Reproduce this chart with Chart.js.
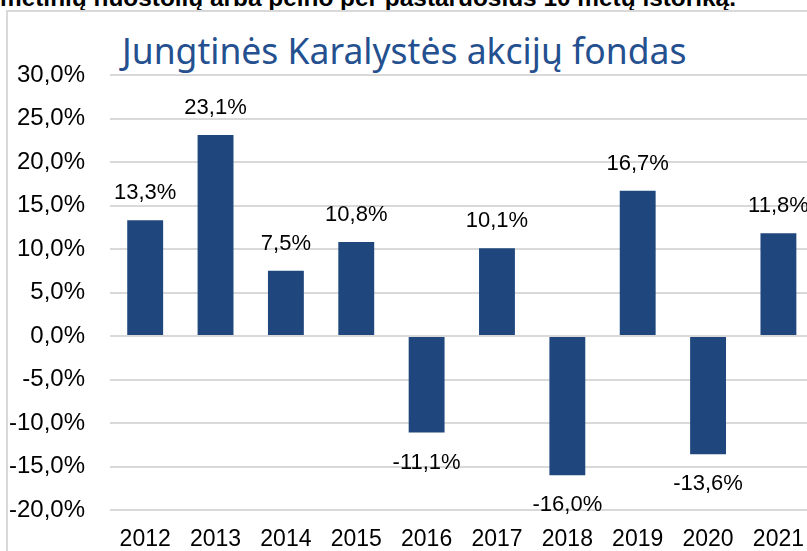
<!DOCTYPE html>
<html>
<head>
<meta charset="utf-8">
<script src="https://cdn.jsdelivr.net/npm/chart.js@4/dist/chart.umd.min.js"></script>
<style>
  html, body { margin: 0; padding: 0; background: #fff; overflow: hidden; }
  #page { position: relative; width: 807px; height: 551px; overflow: hidden; }
  #intro { position: absolute; left: 0; top: -16px; font: bold 24.4px "Liberation Sans", Arial, sans-serif; color: #000; white-space: nowrap; }
  #frame { position: absolute; left: 6px; top: 10px; width: 900px; height: 600px; border: 2px solid #d9d9d9; box-sizing: border-box; }
  #title { position: absolute; left: 122px; top: 26px; font: 35.5px "Noto Sans", sans-serif; color: #24508f; white-space: nowrap; }
  #wrap { position: absolute; left: 0; top: 0; width: 820px; height: 551px; }
</style>
</head>
<body>
<div id="page">
  <div id="intro">metinių nuostolių arba pelno per pastaruosius 10 metų istoriką.</div>
  <div id="frame"></div>
  <div id="title">Jungtinės Karalystės akcijų fondas</div>
  <div id="wrap"><canvas id="grafikas"></canvas></div>
</div>
<script>
// duomenys nuskaityti iš paveikslo
const metai = ["2012", "2013", "2014", "2015", "2016", "2017", "2018", "2019", "2020", "2021"];
const grąža = [13.3, 23.1, 7.5, 10.8, -11.1, 10.1, -16.0, 16.7, -13.6, 11.8];
const yMin = -20;
const yMax = 30;
const yŽingsnis = 5;

const fmt = v => v.toFixed(1).replace(".", ",") + "%";

// reikšmių užrašai virš / po stulpeliais
const reiksmiuUzrasai = {
  id: "reiksmiuUzrasai",
  afterDatasetsDraw(chart) {
    const ctx = chart.ctx;
    const meta = chart.getDatasetMeta(0);
    ctx.save();
    ctx.font = '22px "Liberation Sans", Arial, sans-serif';
    ctx.fillStyle = "#000";
    ctx.textAlign = "center";
    ctx.textBaseline = "middle";
    meta.data.forEach((bar, i) => {
      const v = grąža[i];
      const y = v >= 0 ? bar.y - 27 : bar.y + 30;
      ctx.fillText(fmt(v), bar.x, y);
    });
    ctx.restore();
  }
};

new Chart(document.getElementById("grafikas"), {
  type: "bar",
  data: {
    labels: metai,
    datasets: [{
      data: grąža,
      backgroundColor: "#1f477d",
      borderWidth: 0,
      categoryPercentage: 1,
      barPercentage: 0.51
    }]
  },
  options: {
    responsive: true,
    maintainAspectRatio: false,
    animation: false,
    layout: { padding: { top: 75, left: 0, right: 0, bottom: 0 } },
    plugins: { legend: { display: false }, tooltip: { enabled: false } },
    scales: {
      y: {
        min: yMin,
        max: yMax,
        ticks: {
          stepSize: yŽingsnis,
          padding: 25,
          color: "#000",
          font: { family: '"Liberation Sans", Arial, sans-serif', size: 24 },
          callback: v => fmt(v)
        },
        grid: { color: "#d9d9d9", lineWidth: 2, drawTicks: false },
        border: { display: false },
        afterFit: s => { s.width = 110; }
      },
      x: {
        ticks: {
          padding: 16,
          color: "#000",
          maxRotation: 0,
          font: { family: '"Liberation Sans", Arial, sans-serif', size: 23 }
        },
        grid: { display: false, drawTicks: false },
        border: { display: false },
        afterFit: s => { s.height = 41; }
      }
    }
  },
  plugins: [reiksmiuUzrasai]
});
</script>
</body>
</html>
